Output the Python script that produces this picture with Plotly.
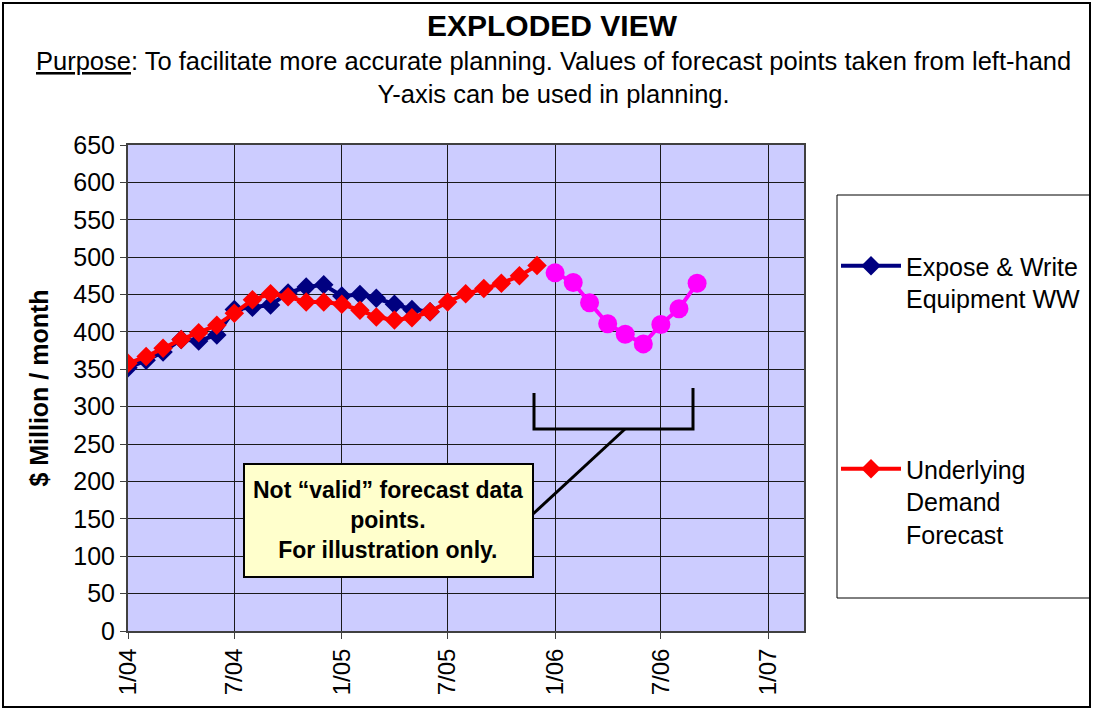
import plotly.graph_objects as go
import pandas as pd

# ---- data ----
actual_months = pd.date_range("2004-01-01", periods=18, freq="MS")
actual_vals = [352, 362, 373, 390, 388, 396, 430, 433, 436, 452, 460, 463,
               448, 450, 445, 437, 430, 427]

demand_months = pd.date_range("2004-01-01", periods=24, freq="MS")
demand_vals = [358, 367, 378, 390, 399, 409, 425, 443, 451, 447, 440, 440,
               437, 429, 420, 416, 419, 427, 440, 451, 458, 465, 475, 489]

illus_months = pd.date_range("2006-01-01", periods=9, freq="MS")
illus_vals = [479, 466, 439, 411, 397, 384, 410, 431, 465]

tick_dates = ["2004-01-01", "2004-07-01", "2005-01-01", "2005-07-01",
              "2006-01-01", "2006-07-01", "2007-01-01"]
tick_labels = ["1/04", "7/04", "1/05", "7/05", "1/06", "7/06", "1/07"]

FONT = "Arial, Liberation Sans, sans-serif"

# layout geometry helpers (pixel -> paper)
L, R, T, B = 128, 804, 145, 631
W, H = 1094, 708
def px(x):
    return (x - L) / (R - L)
def py(y):
    return (B - y) / (B - T)

fig = go.Figure()
fig.add_trace(go.Scatter(
    x=actual_months, y=actual_vals, mode="lines+markers",
    name="Expose & Write<br>Equipment WW", legendgroup="a",
    line=dict(color="#000080", width=4),
    marker=dict(symbol="diamond", size=15, color="#000080")))
fig.add_trace(go.Scatter(
    x=demand_months, y=demand_vals, mode="lines+markers",
    name="Underlying<br>Demand<br>Forecast", legendgroup="b",
    line=dict(color="#FF0000", width=4),
    marker=dict(symbol="diamond", size=15, color="#FF0000")))
fig.add_trace(go.Scatter(
    x=illus_months, y=illus_vals, mode="lines+markers", showlegend=False,
    line=dict(color="#FF00FF", width=4),
    marker=dict(symbol="circle", size=19, color="#FF00FF")))

shapes = [
    # outer chart border
    dict(type="rect", xref="paper", yref="paper", x0=px(3), x1=px(1090),
         y0=py(707), y1=py(3), line=dict(color="black", width=2), layer="below"),
    # legend box
    dict(type="rect", xref="paper", yref="paper", x0=px(837), x1=px(1090),
         y0=py(598), y1=py(195), line=dict(color="black", width=1)),
    # bracket
    dict(type="path", xref="paper", yref="paper",
         path=f"M {px(534)} {py(393)} L {px(534)} {py(429)} L {px(693)} {py(429)} L {px(693)} {py(388)}",
         line=dict(color="black", width=3)),
    # connector
    dict(type="line", xref="paper", yref="paper", x0=px(625), y0=py(429),
         x1=px(533), y1=py(514), line=dict(color="black", width=3)),
    # note box
    dict(type="rect", xref="paper", yref="paper", x0=px(244), x1=px(533),
         y0=py(577), y1=py(464), fillcolor="#FFFFCC",
         line=dict(color="black", width=2)),
]

annotations = [
    dict(text="<b>EXPLODED VIEW</b>", xref="paper", yref="paper",
         x=px(552), y=py(25), showarrow=False, xanchor="center", yanchor="middle",
         font=dict(family=FONT, size=30, color="black")),
    dict(text="<u>Purpose</u>: To facilitate more accurate planning. Values of forecast points taken from left-hand<br>Y-axis can be used in planning.",
         xref="paper", yref="paper", x=px(553), y=py(78), showarrow=False,
         xanchor="center", yanchor="middle", align="center",
         font=dict(family=FONT, size=25.5, color="black")),
    dict(text="<b>Not “valid” forecast data<br>points.<br>For illustration only.</b>",
         xref="paper", yref="paper", x=px(388), y=py(520), showarrow=False,
         xanchor="center", yanchor="middle", align="center",
         font=dict(family=FONT, size=23, color="black")),
]

fig.update_layout(
    width=W, height=H,
    margin=dict(l=L, r=W - R, t=T, b=H - B, autoexpand=False),
    paper_bgcolor="white", plot_bgcolor="#CCCCFF",
    font=dict(family=FONT, size=22, color="black"),
    shapes=shapes, annotations=annotations,
    legend=dict(x=px(836), y=py(243), xanchor="left", yanchor="top",
                bgcolor="rgba(0,0,0,0)", borderwidth=0, valign="top",
                tracegroupgap=135, itemwidth=60,
                font=dict(family=FONT, size=25, color="black")),
    showlegend=True,
)
fig.update_xaxes(
    type="date", range=["2004-01-01", "2007-03-03"],
    tickvals=tick_dates, ticktext=tick_labels, tickangle=-90,
    showgrid=True, gridcolor="#1a1a1a", gridwidth=1,
    showline=True, linecolor="#404040", linewidth=2, mirror=True,
    ticks="outside", ticklen=6, tickcolor="#404040",
    tickfont=dict(family=FONT, size=24), zeroline=False, automargin=False,
)
fig.update_yaxes(
    range=[0, 650], dtick=50, tick0=0,
    showgrid=True, gridcolor="#1a1a1a", gridwidth=1,
    showline=True, linecolor="#404040", linewidth=2, mirror=True,
    ticks="outside", ticklen=6, tickcolor="#404040",
    tickfont=dict(family=FONT, size=25), zeroline=False, automargin=False,
    title=dict(text="<b>$ Million / month</b>", font=dict(family=FONT, size=25), standoff=18),
)

fig.write_html(
    "out.html",
    config={"displayModeBar": False},
    post_script="document.body.style.margin='0';document.body.style.overflow='hidden';document.documentElement.style.overflow='hidden';",
)
